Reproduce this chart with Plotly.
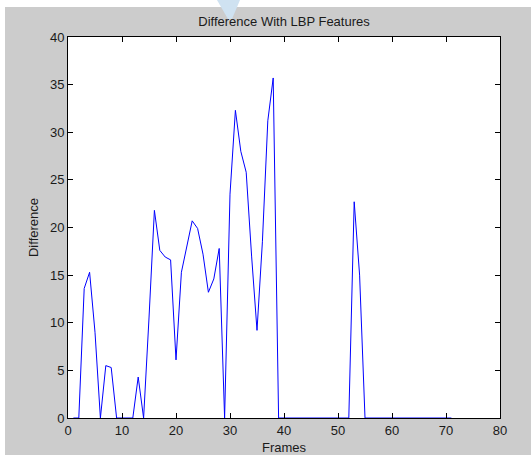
import plotly.graph_objects as go

frames = list(range(1, 72))
difference = [
    0, 0, 13.6, 15.3, 9.0, 0, 5.5, 5.3, 0, 0,          # 1-10
    0, 0, 4.3, 0, 10.5, 21.8, 17.6, 16.9, 16.6, 6.1,   # 11-20
    15.3, 17.9, 20.7, 19.9, 17.2, 13.2, 14.6, 17.8, 0, 23.5,  # 21-30
    32.3, 28.0, 25.8, 17.0, 9.2, 18.5, 31.2, 35.7, 0, 0,  # 31-40
    0, 0, 0, 0, 0, 0, 0, 0, 0, 0,                      # 41-50
    0, 0, 22.7, 15.0, 0, 0, 0, 0, 0, 0,                # 51-60
    0, 0, 0, 0, 0, 0, 0, 0, 0, 0,                      # 61-70
    0,                                                  # 71
]
x_ticks = [0, 10, 20, 30, 40, 50, 60, 70, 80]
y_ticks = [0, 5, 10, 15, 20, 25, 30, 35, 40]

W, H = 531, 455
L, R, T, B = 68, 31, 37, 37
PW, PH = W - L - R, H - T - B

def px(x):
    return (x - L) / PW

def py(y):
    return (H - B - y) / PH

FONT = "Liberation Sans, Arial, sans-serif"
TXT = "#1a1a1a"
FS = 13

fig = go.Figure()
fig.add_trace(go.Scatter(
    x=frames, y=difference, mode="lines",
    line=dict(color="#0000ff", width=1),
    hoverinfo="skip", showlegend=False,
))

axis_common = dict(
    showgrid=False, zeroline=False, showline=True, linecolor="black",
    linewidth=1, mirror="ticks", ticks="inside", ticklen=5, tickcolor="black",
    tickfont=dict(family=FONT, size=FS, color=TXT), automargin=False,
)

fig.update_layout(
    width=W, height=H,
    margin=dict(l=L, r=R, t=T, b=B, pad=0, autoexpand=False),
    paper_bgcolor="white",
    plot_bgcolor="white",
    title=dict(text="Difference With LBP Features", x=px(284), xref="paper",
               xanchor="center", y=1 - 21 / H, yref="container", yanchor="middle",
               font=dict(family=FONT, size=FS, color=TXT)),
    xaxis=dict(range=[0, 80], tickvals=x_ticks, ticktext=[str(v) for v in x_ticks],
               title=dict(text="Frames", standoff=7, font=dict(family=FONT, size=FS, color=TXT)),
               **axis_common),
    yaxis=dict(range=[0, 40], tickvals=y_ticks, ticktext=[str(v) for v in y_ticks],
               title=dict(text="Difference", standoff=8, font=dict(family=FONT, size=FS, color=TXT)),
               **axis_common),
    shapes=[
        dict(type="rect", xref="paper", yref="paper",
             x0=px(5), x1=px(W + 20), y0=py(H + 20), y1=py(7),
             fillcolor="#cccccc", line=dict(width=0), layer="below"),
        dict(type="rect", xref="paper", yref="paper",
             x0=0, x1=1, y0=0, y1=1,
             fillcolor="white", line=dict(width=0), layer="below"),
        dict(type="path", xref="paper", yref="paper",
             path=f"M {px(217)},{py(0)} L {px(240)},{py(0)} L {px(232)},{py(19)} L {px(228)},{py(19)} Z",
             fillcolor="#cfe2f1", line=dict(width=0), layer="below"),
    ],
)

fig.write_html("out.html")
